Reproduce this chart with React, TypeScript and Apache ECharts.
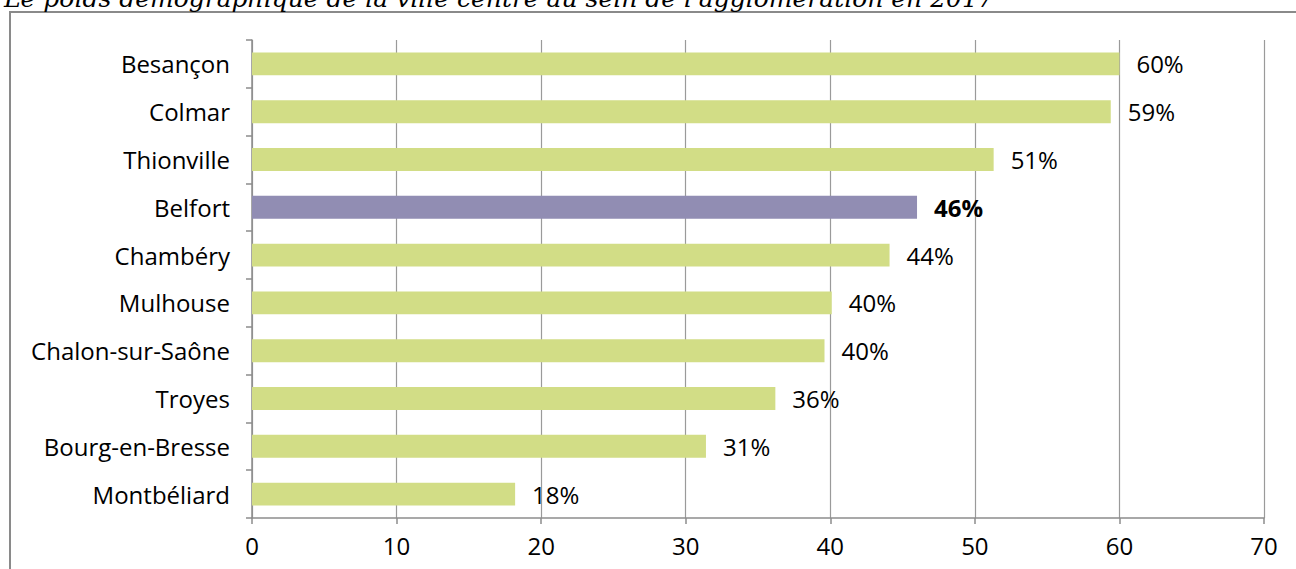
import React, { useEffect, useRef } from "react";
import * as echarts from "echarts";

const titleText = "Le poids démographique de la ville centre au sein de l'agglomération en 2017";
const cities = ["Besançon", "Colmar", "Thionville", "Belfort", "Chambéry", "Mulhouse", "Chalon-sur-Saône", "Troyes", "Bourg-en-Bresse", "Montbéliard"];
const values = [60.0, 59.4, 51.3, 46.0, 44.1, 40.1, 39.6, 36.2, 31.4, 18.2];
const valueLabels = ["60%", "59%", "51%", "46%", "44%", "40%", "40%", "36%", "31%", "18%"];
const highlightCity = "Belfort";
const xTicks = { min: 0, max: 70, interval: 10 };

const GREEN = "#D2DD86";
const PURPLE = "#918DB3";
const FONT = "'Open Sans'";

export default function App() {
  const ref = useRef<HTMLDivElement>(null);
  useEffect(() => {
    if (!ref.current) return;
    const chart = echarts.init(ref.current, null, { renderer: "svg" });
    const data = values.map((v, i) => {
      const hi = cities[i] === highlightCity;
      return {
        value: v,
        itemStyle: { color: hi ? PURPLE : GREEN },
        label: { fontWeight: hi ? "bold" : "normal" },
      };
    });
    chart.setOption({
      animation: false,
      backgroundColor: "#ffffff",
      graphic: [
        {
          type: "rect",
          shape: { x: 10, y: 12, width: 1320, height: 600 },
          style: { fill: "none", stroke: "#8a8a8a", lineWidth: 2 },
          silent: true,
          z: -1,
        },
        {
          type: "text",
          x: 4,
          y: -14,
          style: {
            text: titleText,
            font: "italic 25px 'DejaVu Serif'",
            fill: "#000",
          },
        },
      ],
      grid: { left: 252, right: 32, top: 40, bottom: 51, containLabel: false },
      xAxis: {
        type: "value",
        min: xTicks.min,
        max: xTicks.max,
        interval: xTicks.interval,
        axisLine: { show: true, lineStyle: { color: "#8c8c8c", width: 1.5 } },
        axisTick: { show: true, length: 6, lineStyle: { color: "#8c8c8c", width: 1.5 } },
        axisLabel: { color: "#000", fontSize: 24, fontFamily: FONT, margin: 15 },
        splitLine: { show: true, lineStyle: { color: "#9a9a9a", width: 1.2 } },
      },
      yAxis: {
        type: "category",
        inverse: true,
        data: cities,
        axisLine: { show: true, lineStyle: { color: "#8c8c8c", width: 1.5 } },
        axisTick: { show: true, length: 6, lineStyle: { color: "#8c8c8c", width: 1.5 } },
        axisLabel: { color: "#000", fontSize: 24, fontFamily: FONT, margin: 22 },
        splitLine: { show: false },
      },
      series: [
        {
          type: "bar",
          data,
          barWidth: "48%",
          label: {
            show: true,
            position: "right",
            distance: 17,
            color: "#000",
            fontSize: 24,
            fontFamily: FONT,
            formatter: (p: any) => valueLabels[p.dataIndex],
          },
        },
      ],
    });
    return () => chart.dispose();
  }, []);
  return (
    <div
      ref={ref}
      style={{ position: "fixed", left: 0, top: 0, width: 1296, height: 569, background: "#fff" }}
    />
  );
}
